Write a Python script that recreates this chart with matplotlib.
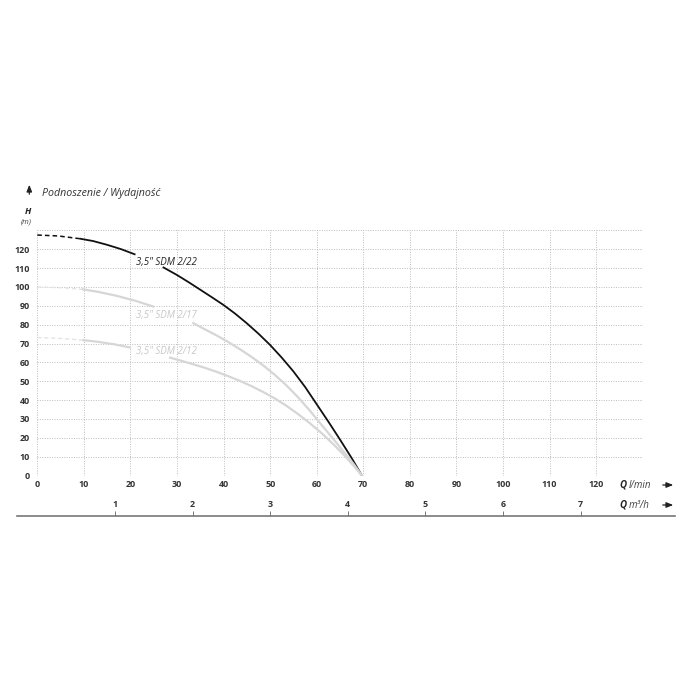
import matplotlib
matplotlib.use("Agg")
import matplotlib.pyplot as plt
from matplotlib.patches import FancyArrowPatch

plt.rcParams['font.family'] = ['Open Sans', 'DejaVu Sans']

# pump curves, Q in l/min, H in m (dashed start, solid before label, solid after label)
q_22_dash = [0, 4.5, 9.3]
h_22_dash = [127.5, 127.0, 125.5]
q_22_a = [9.3, 12, 15, 18, 20.9]
h_22_a = [125.5, 124.3, 122.3, 120.0, 117.3]
q_22_b = [27.1, 30, 32.5, 35, 37.5, 40, 42.5, 45, 47.5, 50, 52.5, 55, 57.5, 60, 62.5, 65, 67.5, 69.7]
h_22_b = [110.3, 106.3, 102.5, 98.5, 94.5, 90.4, 85.8, 80.7, 75.2, 69.2, 62.5, 55.2, 47.0, 37.8, 28.6, 19.1, 9.3, 0]

q_17_dash = [0, 5, 9.8]
h_17_dash = [100, 99.6, 98.7]
q_17_a = [9.8, 13, 17, 21, 24.9]
h_17_a = [98.7, 97.4, 95.3, 92.7, 89.6]
q_17_b = [33.5, 36, 38.5, 41, 43.5, 46, 48.5, 51, 53.5, 56, 58.5, 61, 63.5, 66, 68, 69.7]
h_17_b = [80.8, 77.5, 74.3, 70.8, 67.0, 62.9, 58.4, 53.4, 47.8, 41.5, 34.5, 27.0, 19.6, 12.0, 5.9, 0]

q_12_dash = [0, 5, 9.9]
h_12_dash = [73.2, 72.7, 71.8]
q_12_a = [9.9, 13, 16.5, 19.9]
h_12_a = [71.8, 70.9, 69.6, 67.9]
q_12_b = [28.5, 31, 33.5, 36, 38.5, 41, 43.5, 46, 48.5, 51, 53.5, 56, 58.5, 61, 63.5, 66, 68, 69.7]
h_12_b = [62.5, 60.8, 59.0, 57.1, 55.0, 52.7, 50.2, 47.4, 44.3, 40.9, 37.0, 32.6, 27.8, 22.6, 16.8, 10.5, 5.0, 0]

labels = ['3,5" SDM 2/22', '3,5" SDM 2/17', '3,5" SDM 2/12']
label_q = [21.3, 21.3, 21.3]
label_h = [113.2, 85.1, 65.7]

q_ticks = list(range(0, 121, 10))
h_ticks = list(range(0, 121, 10))
m3h_ticks = [1, 2, 3, 4, 5, 6, 7]
LPM_PER_M3H = 1000 / 60

W = H = 700
fig = plt.figure(figsize=(7, 7), dpi=100)

# main plot area in pixels
ax_l, ax_r, ax_b, ax_t = 37.3, 642.7, 475.6, 230.3
ax = fig.add_axes([ax_l / W, (H - ax_b) / H, (ax_r - ax_l) / W, (ax_b - ax_t) / H])
ax.set_xlim(0, 130)
ax.set_ylim(0, 130)
for s in ax.spines.values():
    s.set_visible(False)
ax.set_xticks(range(0, 131, 10))
ax.set_yticks(range(0, 131, 10))
ax.set_xticklabels([str(v) for v in q_ticks] + [''])
ax.set_yticklabels([str(v) for v in h_ticks] + [''])
ax.tick_params(length=0, labelsize=6.4, labelcolor='#333333')
ax.tick_params(axis='x', pad=3.2)
ax.tick_params(axis='y', pad=5.5)
for t in ax.get_xticklabels() + ax.get_yticklabels():
    t.set_fontweight('bold')
ax.grid(True, color='#bdbdbd', linestyle=(0, (1, 1.5)), linewidth=0.7)
ax.set_axisbelow(True)

light = '#d6d6d6'
ax.plot(q_22_dash, h_22_dash, color='#111111', lw=1.1, ls=(0, (3, 2)))
ax.plot(q_22_a, h_22_a, color='#111111', lw=1.3)
ax.plot(q_22_b, h_22_b, color='#111111', lw=1.3)
ax.plot(q_17_dash, h_17_dash, color='#e4e4e4', lw=1.0, ls=(0, (3, 2)))
ax.plot(q_17_a, h_17_a, color=light, lw=1.6)
ax.plot(q_17_b, h_17_b, color=light, lw=1.6)
ax.plot(q_12_dash, h_12_dash, color='#e4e4e4', lw=1.0, ls=(0, (3, 2)))
ax.plot(q_12_a, h_12_a, color=light, lw=1.6)
ax.plot(q_12_b, h_12_b, color=light, lw=1.6)

label_colors = ['#222222', '#c8c8c8', '#c8c8c8']
for txt, lq, lh, c in zip(labels, label_q, label_h, label_colors):
    ax.text(lq, lh, txt, color=c, fontsize=7, style='italic', ha='left', va='center')

# second axis in m3/h
line_l, line_r = 17, 675
q_per_px = 130 / (ax_r - ax_l)
ax2 = fig.add_axes([line_l / W, (H - 516) / H, (line_r - line_l) / W, 6 / H])
ax2.set_xlim((line_l - ax_l) * q_per_px / LPM_PER_M3H, (line_r - ax_l) * q_per_px / LPM_PER_M3H)
ax2.set_ylim(0, 1)
ax2.patch.set_visible(False)
for side in ['top', 'left', 'right']:
    ax2.spines[side].set_visible(False)
ax2.spines['bottom'].set_color('#777777')
ax2.spines['bottom'].set_linewidth(1.2)
ax2.set_yticks([])
ax2.set_xticks(m3h_ticks)
ax2.set_xticklabels([str(v) for v in m3h_ticks])
ax2.tick_params(axis='x', direction='in', length=3.5, width=0.7, color='#777777',
                labelbottom=False, labeltop=True, top=False, bottom=True,
                labelsize=6.4, labelcolor='#333333', pad=1)
for t in ax2.get_xticklabels():
    t.set_fontweight('bold')


def fx(px):
    return px / W


def fy(py):
    return (H - py) / H


# axis titles
fig.text(fx(619), fy(485), 'Q', fontsize=7, fontweight='bold', style='italic', color='#222222', va='center')
fig.text(fx(629), fy(485), 'l/min', fontsize=7, style='italic', color='#444444', va='center')
fig.text(fx(619), fy(505), 'Q', fontsize=7, fontweight='bold', style='italic', color='#222222', va='center')
fig.text(fx(629), fy(505), 'm³/h', fontsize=7, style='italic', color='#444444', va='center')
for py in [485, 505]:
    fig.add_artist(FancyArrowPatch(
        (fx(660), fy(py)), (fx(676), fy(py)), transform=fig.transFigure,
        arrowstyle='-|>,head_length=4,head_width=1.6', color='#222222', lw=0.9))

fig.add_artist(FancyArrowPatch(
    (fx(29.3), fy(197)), (fx(29.3), fy(182)), transform=fig.transFigure,
    arrowstyle='-|>,head_length=4,head_width=1.6', color='#222222', lw=0.9))
fig.text(fx(41.7), fy(193.3), 'Podnoszenie / Wydajność', fontsize=7.7, style='italic',
         color='#333333', va='center')
fig.text(fx(27.7), fy(211.7), 'H', fontsize=6.5, fontweight='bold', style='italic',
         color='#222222', va='center', ha='center')
fig.text(fx(26.5), fy(221.7), '(m)', fontsize=5.5, style='italic', color='#444444',
         va='center', ha='center')

fig.savefig('out.png', dpi=100, facecolor='white')
